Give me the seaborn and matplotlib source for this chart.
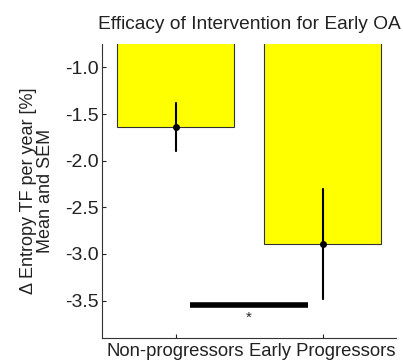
import matplotlib
matplotlib.use("Agg")
import matplotlib.pyplot as plt
import seaborn as sns
import pandas as pd

categories = ["Non-progressors", "Early Progressors"]
means = [-1.64, -2.89]
sems = [0.26, 0.59]
sig_x = [0.1, 0.9]
sig_y = -3.545
star_y = -3.68

sns.set_style("ticks")
plt.rcParams['font.family'] = ['Liberation Sans', 'DejaVu Sans']

df = pd.DataFrame({"group": categories, "value": means})

fig = plt.figure(figsize=(4.03, 3.61), dpi=100)
ax = fig.add_axes([0.253, 0.064, 0.730, 0.814])

sns.barplot(data=df, x="group", y="value", color="#ffff00", saturation=1,
            edgecolor="#333333", linewidth=0.8, width=0.8, errorbar=None, ax=ax)
ax.errorbar(range(len(categories)), means, yerr=sems, fmt='o', color='black',
            markersize=4, elinewidth=1.5, capsize=1, capthick=1.2)

ax.plot(sig_x, [sig_y, sig_y], color='black', linewidth=4, solid_capstyle='butt')
ax.text(0.5, star_y, "*", ha='center', va='center', fontsize=11)

ax.set_xlim(-0.5, 1.5)
ax.set_ylim(-3.9, -0.75)
ax.set_yticks([-1.0, -1.5, -2.0, -2.5, -3.0, -3.5])
ax.set_yticklabels(["-1.0", "-1.5", "-2.0", "-2.5", "-3.0", "-3.5"])
ax.tick_params(direction='in', length=3, colors='#222222', width=0.8)
ax.tick_params(axis='y', labelsize=14, pad=2)
ax.tick_params(axis='x', labelsize=13.3, pad=4)
for s in ['top', 'right']:
    ax.spines[s].set_visible(False)
for s in ['left', 'bottom']:
    ax.spines[s].set_color('#333333')
    ax.spines[s].set_linewidth(0.8)

ax.set_xlabel("")
ax.set_ylabel("\u0394 Entropy TF per year [%]\nMean and SEM", fontsize=13, color='#222222',
              labelpad=8, linespacing=1.0)
ax.set_title("Efficacy of Intervention for Early OA", fontsize=13.8, color='#222222', pad=11)

fig.savefig("out.png", dpi=100)
